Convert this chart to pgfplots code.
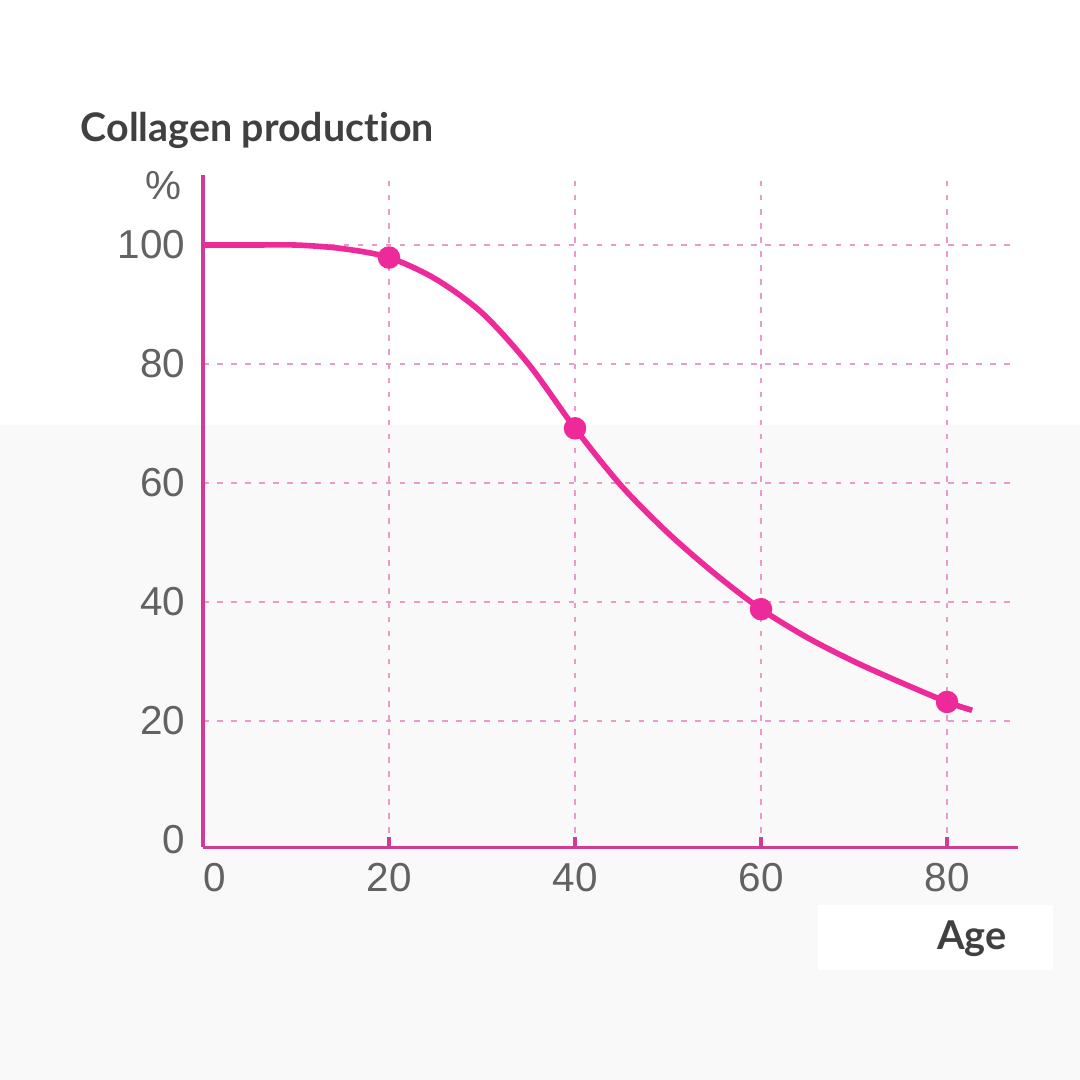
\documentclass[border=0pt]{standalone}
\usepackage{pgfplots}
\pgfplotsset{compat=1.18}
\usepackage{fontspec}
\setmainfont{Liberation Sans}
\newfontfamily\titlefont{Lato}[Ligatures=NoCommon]
\definecolor{curvepink}{HTML}{EE2A9B}
\definecolor{axispink}{HTML}{D13B97}
\definecolor{gridpink}{HTML}{EC9ACB}
\definecolor{ticktext}{HTML}{626262}
\definecolor{titletext}{HTML}{404040}
\begin{document}
\begin{tikzpicture}
\path[use as bounding box] (0,0) rectangle (10.8cm,10.8cm);
\fill[white] (0,0) rectangle (10.8cm,10.8cm);
\fill[black!2.5] (0,0) rectangle (10.8cm,6.55cm);
\fill[white] (8.18cm,1.10cm) rectangle (10.53cm,1.75cm);

\begin{axis}[
  at={(2.03cm,2.40cm)}, anchor=origin,
  x=0.093cm, y=0.0595cm,
  xmin=0, xmax=87.6,
  ymin=-1.2, ymax=111.8,
  axis lines*=left,
  axis line style={axispink, line width=0.9pt},
  xtick={0,20,40,60,80},
  xticklabels={\makebox[0pt][l]{0},20,40,60,80},
  ytick={20,40,60,80,100},
  extra y ticks={0},
  extra y tick style={grid=none},
  grid=major,
  major grid style={gridpink, line width=0.6pt, dash pattern=on 1.6pt off 2.4pt},
  tick align=inside,
  xtick style={axispink, line width=0.9pt},
  ytick style={draw=none},
  major tick length=3pt,
  tick label style={font=\fontsize{11.5}{13}\selectfont, text=ticktext},
  /pgf/number format/assume math mode=true,
  yticklabel style={xshift=-1.5pt},
  xticklabel style={yshift=-1pt},
  clip=false,
]
  \addplot[curvepink, line width=1.6pt, smooth] coordinates {
    (0,100) (5,100) (10,100) (15,99.4) (20,97.9) (25,94.3) (30,88.6)
    (35,80.0) (40,69.2) (45,59.5) (50,51.6) (55,44.8) (60,38.8)
    (65,34.0) (70,30.0) (75,26.5) (80,23.2) (82.7,21.8)
  };
  \addplot[only marks, mark=*, mark size=3pt, curvepink] coordinates {
    (20,97.9) (40,69.2) (60,38.8) (80,23.2)
  };
\end{axis}

\node[text=ticktext, font=\fontsize{11.5}{13}\selectfont] at (1.63cm,8.94cm) {\%};
\node[anchor=base west, inner sep=0pt, text=titletext, font=\titlefont\bfseries\fontsize{11.2}{13}\selectfont]
  at (0.80cm,9.38cm) {Collagen production};
\node[anchor=base, inner sep=0pt, text=titletext, font=\titlefont\bfseries\fontsize{11.3}{13}\selectfont]
  at (9.72cm,1.30cm) {Age};
\end{tikzpicture}
\end{document}
